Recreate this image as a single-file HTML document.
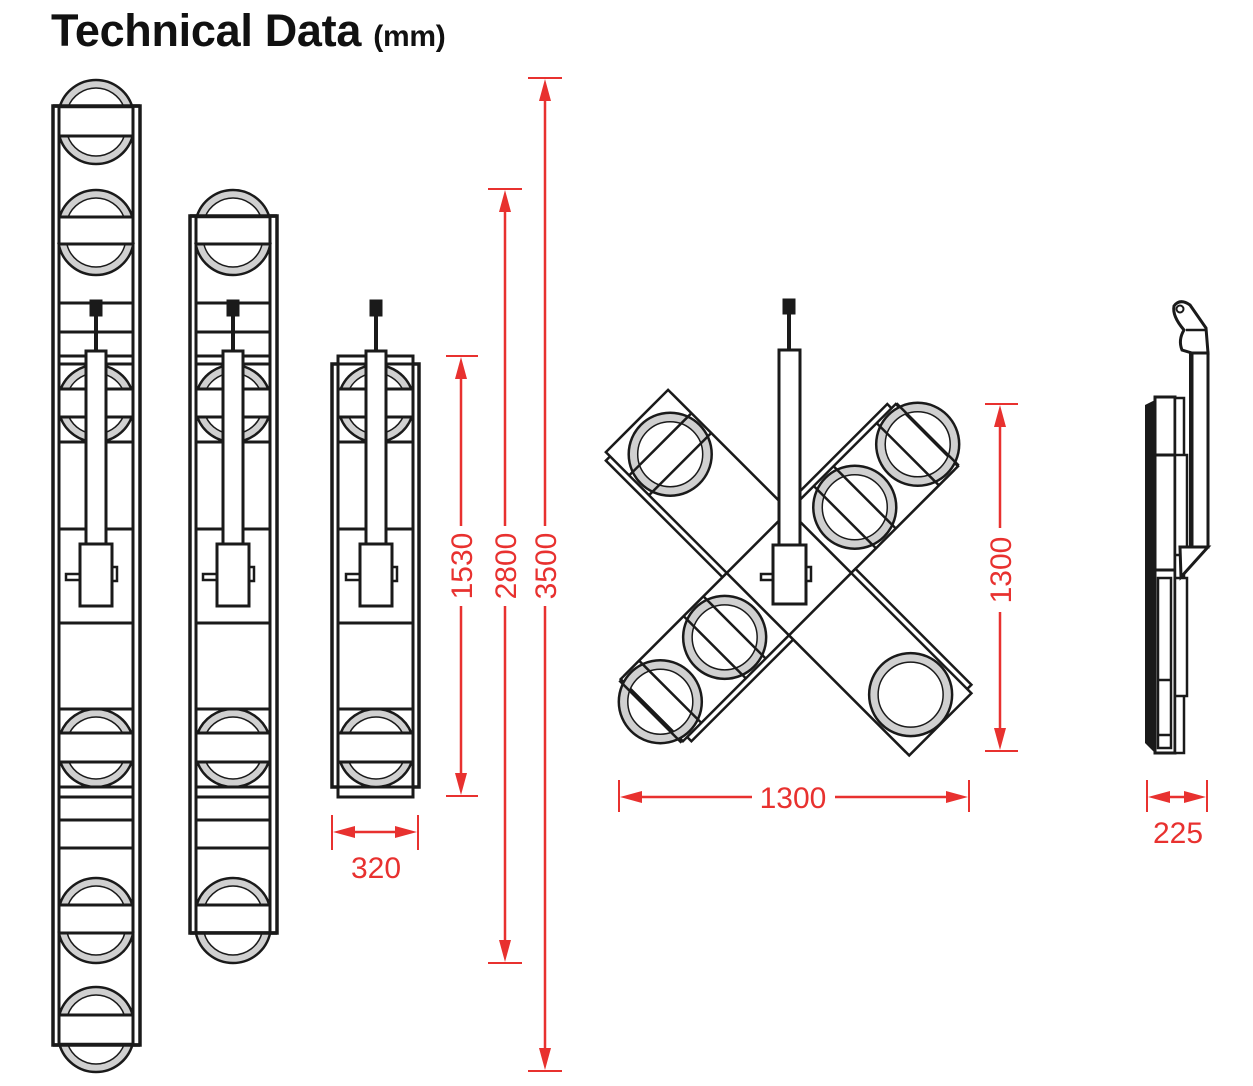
<!DOCTYPE html>
<html><head><meta charset="utf-8"><style>
html,body{margin:0;padding:0;background:#fff;}
svg{display:block;}
</style></head><body>
<svg id="s" width="1253" height="1086" viewBox="0 0 1253 1086" xmlns="http://www.w3.org/2000/svg">
<rect width="1253" height="1086" fill="#fff"/>
<text x="51" y="46" font-family="Liberation Sans, sans-serif" font-weight="bold" font-size="45" fill="#111" letter-spacing="-0.3">Technical Data <tspan font-size="30">(mm)</tspan></text>
<g id="draw"></g>
<g font-family="Liberation Sans, sans-serif" font-size="30" fill="#e8312f" text-anchor="middle">
<text x="376" y="878">320</text>
<text x="1178" y="843">225</text>
<text x="793" y="808">1300</text>
<text transform="translate(472,566) rotate(-90)">1530</text>
<text transform="translate(516,566) rotate(-90)">2800</text>
<text transform="translate(556,566) rotate(-90)">3500</text>
<text transform="translate(1011,570) rotate(-90)">1300</text>
</g>
</svg>
<script>
var NS="http://www.w3.org/2000/svg",G=document.getElementById("draw");
function el(t,a,p){var e=document.createElementNS(NS,t);for(var k in a)e.setAttribute(k,a[k]);(p||G).appendChild(e);return e;}
var K="#1a1a1a",GR="#d0d0d0",RED="#e8312f";
function rect(x,y,w,h,sw,fill,p){return el("rect",{x:x,y:y,width:w,height:h,fill:fill||"#fff",stroke:K,"stroke-width":sw||3},p);}
function line(x1,y1,x2,y2,sw,c,p){return el("line",{x1:x1,y1:y1,x2:x2,y2:y2,stroke:c||K,"stroke-width":sw||3},p);}
function seg(cx,cy,r,chY,up,fill,sw){
  var d=Math.abs(chY-cy);if(d>=r)return;var w=Math.sqrt(r*r-d*d);
  var large=up?(chY>cy?1:0):(chY<cy?1:0);var sweep=up?1:0;
  el("path",{d:"M"+(cx-w)+","+chY+" A"+r+","+r+" 0 "+large+" "+sweep+" "+(cx+w)+","+chY+" Z",fill:fill,stroke:K,"stroke-width":sw});
}
function pair(cx,T,b1,b2,B){
  seg(cx,T+38,38,b1,true,GR,2.5);seg(cx,T+38,30,b1,true,"#fff",1.5);
  seg(cx,B-38,38,b2,false,GR,2.5);seg(cx,B-38,30,b2,false,"#fff",1.5);
}
function stem(cx){
  line(cx,313,cx,351,4);
  rect(cx-6,300,12,16,1,K);
  rect(cx-10,351,20,193,3);
  rect(cx-30,574,14,6,2.5);
  rect(cx+16,567,5,14,2.5);
  rect(cx-16,544,32,62,3);
}
var P=[[80,107,136,164],[190,217,244,275],[365,389,417,442],[709,733,762,787],[878,905,933,963],[987,1015,1044,1072]];
var L=[107,136,217,244,303,332,356,364,389,417,442,529,623,709,733,762,787,797,820,848,905,933,1015,1044];
function lamp(x0,top,bot,pairs){
  var cx=x0+43;
  rect(x0,top,87,bot-top,3.5);
  line(x0+6,top,x0+6,bot,3);line(x0+80,top,x0+80,bot,3);
  pairs.forEach(function(i){var p=P[i];pair(cx,p[0],p[1],p[2],p[3]);});
  L.forEach(function(y){if(y>top+2&&y<bot-2)line(x0+6,y,x0+80,y,3);});
  line(x0,top,x0+87,top,3.5);line(x0,bot,x0+87,bot,3.5);
  stem(cx);
}
lamp(53,106,1045,[0,1,2,3,4,5]);
lamp(190,216,933,[1,2,3,4]);
(function(){
  var cx=376;
  rect(332,364,87,423,3.5);rect(338,356,75,441,3);
  line(338,364,413,364,3);line(338,787,413,787,3);
  pair(cx,365,389,417,442);pair(cx,709,733,762,787);
  [389,417,442,529,623,709,733,762].forEach(function(y){line(338,y,413,y,3);});
  stem(cx);
})();
(function(){
  var cxx=789,cyy=573;
  var arms=[[-135,215,[[168,1]]],[-45,195,[[182,1],[93,1]]],[135,194,[[182,1],[91,1]]],[45,214,[[172,0]]]];
  arms.forEach(function(a){
    var g=el("g",{transform:"translate("+cxx+","+cyy+") rotate("+a[0]+")"});
    rect(44,-50,a[1]-50,94,2.5,"#fff",g);
    rect(44,-44,a[1]-44,88,2.5,"#fff",g);
  });
  arms.forEach(function(a){
    var g=el("g",{transform:"translate("+cxx+","+cyy+") rotate("+a[0]+")"});
    a[2].forEach(function(c){
      el("circle",{cx:c[0],cy:0,r:37,fill:"none",stroke:GR,"stroke-width":9},g);
      el("circle",{cx:c[0],cy:0,r:41.5,fill:"none",stroke:K,"stroke-width":2.5},g);
      el("circle",{cx:c[0],cy:0,r:32.5,fill:"none",stroke:K,"stroke-width":1.5},g);
      if(c[1]){line(c[0]-14,-44,c[0]-14,44,2.5,K,g);line(c[0]+14,-44,c[0]+14,44,2.5,K,g);}
    });
  });
  var g=el("g",{transform:"translate("+cxx+","+cyy+") rotate(45)"});
  rect(-44,-44,88,88,2.5,"#fff",g);
  line(789,313,789,350,4);rect(783,299,12,15,1,K);
  rect(779,350,21,195,3);
  rect(761,574,12,6,2.5);rect(806,567,5,14,2.5);
  rect(773,545,33,59,3);
})();
(function(){
  el("polygon",{points:"1145,405 1155,400 1155,753 1145,743",fill:K});
  rect(1155,397,20,356,3);
  rect(1175,398,9,355,2.5);
  line(1155,455,1175,455,3);line(1155,570,1175,570,3);
  rect(1158,578,13,170,2.5);line(1158,680,1171,680,2.5);line(1158,735,1171,735,2.5);
  rect(1175,455,12,100,2.5);rect(1175,578,12,118,2.5);
  rect(1192,353,16,194,3);line(1190,353,1190,547,2);
  el("polygon",{points:"1180,547 1208,547 1181,577",fill:"#fff",stroke:K,"stroke-width":3});
  el("path",{d:"M1192,353 L1208,353 L1206,328 L1190,305 Q1180,298 1174,306 Q1172,316 1184,330 Q1178,340 1182,350 Z",fill:"#fff",stroke:K,"stroke-width":3});
  el("circle",{cx:1180,cy:309,r:3.5,fill:"#fff",stroke:K,"stroke-width":2});
  line(1186,330,1206,330,2.5);
})();
function arrowH(x1,x2,y){
  line(x1+18,y,x2-18,y,2.5,RED);
  el("polygon",{points:x1+","+y+" "+(x1+22)+","+(y-6)+" "+(x1+22)+","+(y+6),fill:RED});
  el("polygon",{points:x2+","+y+" "+(x2-22)+","+(y-6)+" "+(x2-22)+","+(y+6),fill:RED});
}
function arrowV(x,y1,y2,gap1,gap2){
  if(gap1){line(x,y1+18,x,gap1,2.5,RED);line(x,gap2,x,y2-18,2.5,RED);}else line(x,y1+18,x,y2-18,2.5,RED);
  el("polygon",{points:x+","+y1+" "+(x-6)+","+(y1+22)+" "+(x+6)+","+(y1+22),fill:RED});
  el("polygon",{points:x+","+y2+" "+(x-6)+","+(y2-22)+" "+(x+6)+","+(y2-22),fill:RED});
}
line(332,815,332,850,2,RED);line(418,815,418,850,2,RED);arrowH(333,417,832);
line(1147,780,1147,812,2,RED);line(1207,780,1207,812,2,RED);arrowH(1148,1206,797);
line(619,780,619,812,2,RED);line(969,780,969,812,2,RED);
line(637,797,752,797,2.5,RED);line(835,797,951,797,2.5,RED);
el("polygon",{points:"620,797 642,791 642,803",fill:RED});el("polygon",{points:"968,797 946,791 946,803",fill:RED});
line(446,356,478,356,2,RED);line(446,796,478,796,2,RED);arrowV(461,357,795,526,606);
line(488,189,522,189,2,RED);line(488,963,522,963,2,RED);arrowV(505,190,962,526,606);
line(528,78,562,78,2,RED);line(528,1071,562,1071,2,RED);arrowV(545,79,1070,526,606);
line(985,404,1018,404,2,RED);line(985,751,1018,751,2,RED);arrowV(1000,405,750,528,612);
</script>
</body></html>
